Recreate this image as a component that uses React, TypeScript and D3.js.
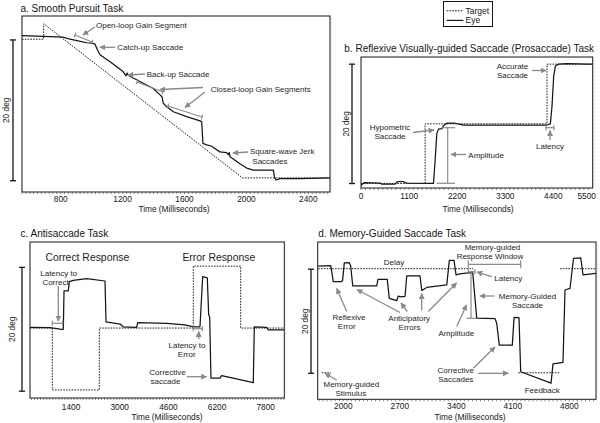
import React from 'react';
import * as d3 from 'd3';

type Pt = [number, number];

// ---------------- Data (time in ms, position in deg) ----------------
// a. Smooth pursuit
const ticksA = [800, 1200, 1600, 2000, 2400];
const targetA: Pt[] = [[550, 19.7], [690, 19.7], [690, 21.9], [1975, 0], [2540, 0]];
const eyeA: Pt[] = [
  [550, 20.2], [686, 20.1], [815, 20.0], [860, 19.7], [905, 19.5], [970, 19.2], [1009, 19.1],
  [1022, 19.0], [1037, 18.2], [1054, 17.5], [1119, 16.5], [1203, 15.1], [1222, 14.5], [1229, 14.9],
  [1237, 14.6], [1269, 14.2], [1312, 13.7], [1398, 12.7], [1442, 11.8], [1455, 11.5], [1463, 10.6],
  [1485, 10.1], [1528, 9.4], [1614, 8.7], [1700, 8.1], [1711, 8.0], [1719, 4.9], [1743, 4.7],
  [1776, 4.5], [1808, 4.0], [1829, 3.7], [1872, 3.6], [1883, 3.3], [1889, 3.6], [1894, 3.0],
  [1915, 2.7], [1958, 2.0], [2002, 1.4], [2044, 1.1], [2174, 1.1], [2181, 0.1], [2191, -0.3],
  [2217, -0.1], [2346, -0.1], [2540, 0.0],
];

// b. Reflexive visually-guided saccade
const ticksB = [0, 1100, 2200, 3300, 4400, 5500];
const targetB: Pt[] = [[0, 0], [1467, 0], [1467, 10], [4255, 10], [4255, 20], [5300, 20]];
const eyeB: Pt[] = [
  [0, -0.3], [69, 0.13], [435, 0.08], [474, -0.1], [779, -0.1], [833, 0.3], [970, 0.3], [1047, 0.08],
  [1658, 0.03], [1696, 3.9], [1734, 8.4], [1772, 9.1], [1849, 9.2], [1887, 9.7], [1963, 10.1],
  [2154, 10.1], [2345, 9.8], [4255, 9.8], [4331, 10.0], [4369, 12.9], [4407, 17.9], [4446, 19.7],
  [4522, 20.0], [4713, 20.1], [5171, 20.0], [5300, 20.0],
];

// c. Antisaccade
const ticksC = [1400, 3000, 4600, 6200, 7800];
const targetC: Pt[] = [
  [50, 0], [783, 0], [783, -10], [2328, -10], [2328, 0], [5418, 0], [5418, 10], [6976, 10],
  [6976, 0], [8410, 0],
];
const eyeC: Pt[] = [
  [50, 0.1], [707, 0.05], [1092, -0.2], [1145, -0.2], [1168, 6.0], [1309, 6.0], [1342, 7.5],
  [1473, 7.7], [1914, 8.0], [2516, 7.6], [2549, 1.0], [3009, 0.65], [3117, 0.2], [3558, 0.1],
  [3590, 0.86], [4543, 0.75], [5145, 0.5], [5419, 0.2], [5638, 0.2], [5727, 8.3], [5879, 8.1],
  [5924, 2.1], [5957, 1.8], [5999, -8.1], [6296, -8.1], [6351, -7.7], [7391, -8.8], [7424, 0.2],
  [7831, 0.1], [7883, -0.3], [8410, -0.3],
];

// d. Memory-guided saccade
const ticksD = [2000, 2700, 3400, 4100, 4800];
const targetDFixation: Pt[] = [[1690, 0], [3611, 0]];
const targetDStimulus: Pt[] = [[1733, -20], [1844, -20]];
const targetDFeedback: Pt[] = [[4169, -20], [4685, -20]];
const targetDFinal: Pt[] = [[4685, 0], [5131, 0]];
const eyeD: Pt[] = [
  [1690, 0.5], [1845, 0.6], [1876, -2.5], [1980, -2.5], [1992, -2.2], [2012, 1.1], [2075, 1.15],
  [2092, 0.5], [2117, -3.3], [2414, -3.3], [2430, -2.05], [2545, -2.05], [2570, -5.7], [2662, -6.15],
  [2682, -5.25], [2703, -5.4], [2765, -5.3], [2786, -1.4], [2951, -1.4], [2972, -4.2], [3034, -3.6],
  [3282, -3.1], [3314, 1.6], [3372, 1.6], [3397, -1.2], [3446, -1.0], [3570, -0.77], [3604, -0.8],
  [3653, -9.5], [3880, -9.6], [3901, -10.5], [3933, -14.7], [4094, -14.7], [4116, -9.35],
  [4177, -9.4], [4198, -19.8], [4574, -22.0], [4598, -18.3], [4722, -18.0], [4747, -4.1],
  [4809, -3.8], [4853, 2.0], [4942, 2.1], [4970, -1.2], [5131, -0.9],
];

const legendItems = ['Target', 'Eye'];
const scaleBarDeg = 20;

// ---------------- Styling ----------------
const FONT = '"Liberation Sans", Arial, Helvetica, sans-serif';
const GRAY = '#8a8a8a';
const INK = '#151515';
const SMALL = 8.3;
const ANN = 8;

type Ann =
  | { k: 't'; x: number; y: number; s: string; a?: 'start' | 'middle' | 'end'; size?: number }
  | { k: 'a'; x1: number; y1: number; x2: number; y2: number }
  | { k: 'b'; x1: number; y1: number; x2: number; y2: number; cap?: number };

const annA: Ann[] = [
  { k: 't', x: 96, y: 28.3, s: 'Open-loop Gain Segment', a: 'start' },
  { k: 't', x: 117.3, y: 50.3, s: 'Catch-up Saccade', a: 'start' },
  { k: 't', x: 146.7, y: 77, s: 'Back-up Saccade', a: 'start' },
  { k: 't', x: 210.7, y: 92.3, s: 'Closed-loop Gain Segments', a: 'start' },
  { k: 't', x: 250, y: 153.7, s: 'Square-wave Jerk', a: 'start' },
  { k: 't', x: 252.3, y: 163.7, s: 'Saccades', a: 'start' },
  { k: 'a', x1: 95, y1: 27, x2: 83, y2: 35 },
  { k: 'a', x1: 115, y1: 47.3, x2: 100, y2: 47.3 },
  { k: 'a', x1: 145, y1: 74, x2: 128, y2: 75 },
  { k: 'a', x1: 203, y1: 87.5, x2: 160, y2: 89.5 },
  { k: 'a', x1: 205, y1: 92, x2: 185, y2: 107.5 },
  { k: 'a', x1: 248, y1: 152, x2: 233, y2: 153 },
  { k: 'b', x1: 75, y1: 35, x2: 92, y2: 42 },
  { k: 'b', x1: 137, y1: 82, x2: 163, y2: 92 },
  { k: 'b', x1: 168, y1: 106, x2: 202, y2: 117 },
];

const annB: Ann[] = [
  { k: 't', x: 512.5, y: 69.3, s: 'Accurate' },
  { k: 't', x: 512.5, y: 78.3, s: 'Saccade' },
  { k: 't', x: 390, y: 130.2, s: 'Hypometric' },
  { k: 't', x: 390, y: 139.2, s: 'Saccade' },
  { k: 't', x: 468.3, y: 158, s: 'Amplitude', a: 'start' },
  { k: 't', x: 550, y: 148.7, s: 'Latency' },
  { k: 'a', x1: 532, y1: 70.5, x2: 546, y2: 70.5 },
  { k: 'a', x1: 413, y1: 132.5, x2: 434, y2: 130 },
  { k: 'a', x1: 466, y1: 154.5, x2: 451, y2: 154.5 },
  { k: 'a', x1: 550, y1: 140, x2: 550, y2: 130.5 },
  { k: 'b', x1: 546, y1: 127.7, x2: 554, y2: 127.7 },
  { k: 'b', x1: 447.7, y1: 127.7, x2: 447.7, y2: 183.3, cap: 0 },
  { k: 'b', x1: 441.7, y1: 127.7, x2: 455, y2: 127.7, cap: 0 },
  { k: 'b', x1: 436.7, y1: 183.3, x2: 455, y2: 183.3, cap: 0 },
];

const annC: Ann[] = [
  { k: 't', x: 87.3, y: 260.5, s: 'Correct Response', size: 10.4 },
  { k: 't', x: 218.8, y: 260.5, s: 'Error Response', size: 10.4 },
  { k: 't', x: 58.7, y: 275.8, s: 'Latency to' },
  { k: 't', x: 55.5, y: 284.8, s: 'Correct' },
  { k: 't', x: 187, y: 348.3, s: 'Latency to' },
  { k: 't', x: 186.7, y: 357.3, s: 'Error' },
  { k: 't', x: 167.5, y: 375.2, s: 'Corrective' },
  { k: 't', x: 165.5, y: 384.2, s: 'saccade' },
  { k: 'a', x1: 58.3, y1: 286, x2: 58.3, y2: 321 },
  { k: 'a', x1: 198.7, y1: 339, x2: 198.7, y2: 331.5 },
  { k: 'a', x1: 186.7, y1: 376.7, x2: 206.5, y2: 376.7 },
  { k: 'b', x1: 52.3, y1: 323.3, x2: 62.7, y2: 323.3 },
  { k: 'b', x1: 193.3, y1: 328.7, x2: 202.3, y2: 328.7 },
];

const annD: Ann[] = [
  { k: 't', x: 394, y: 264.7, s: 'Delay' },
  { k: 't', x: 492.5, y: 249.7, s: 'Memory-guided' },
  { k: 't', x: 490, y: 258.7, s: 'Response Window' },
  { k: 't', x: 508.3, y: 281.3, s: 'Latency' },
  { k: 't', x: 527.5, y: 298.7, s: 'Memory-Guided' },
  { k: 't', x: 527.5, y: 307.7, s: 'Saccade' },
  { k: 't', x: 456.3, y: 335.7, s: 'Amplitude' },
  { k: 't', x: 349, y: 319.8, s: 'Reflexive' },
  { k: 't', x: 346.7, y: 328.8, s: 'Error' },
  { k: 't', x: 409.2, y: 320.6, s: 'Anticipatory' },
  { k: 't', x: 409.5, y: 329.6, s: 'Errors' },
  { k: 't', x: 455.8, y: 372.6, s: 'Corrective' },
  { k: 't', x: 455.8, y: 381.6, s: 'Saccades' },
  { k: 't', x: 542.2, y: 393.3, s: 'Feedback' },
  { k: 't', x: 351.3, y: 386.6, s: 'Memory-guided' },
  { k: 't', x: 350.8, y: 395.6, s: 'Stimulus' },
  { k: 'a', x1: 346.7, y1: 311.5, x2: 336.7, y2: 288.5 },
  { k: 'a', x1: 400, y1: 312.5, x2: 357, y2: 289.5 },
  { k: 'a', x1: 407.3, y1: 311.5, x2: 401, y2: 303 },
  { k: 'a', x1: 421.7, y1: 310.5, x2: 421.7, y2: 293.5 },
  { k: 'a', x1: 428.3, y1: 311.5, x2: 456.5, y2: 283 },
  { k: 'a', x1: 491.7, y1: 276.7, x2: 477, y2: 272 },
  { k: 'a', x1: 494.3, y1: 296, x2: 480, y2: 296 },
  { k: 'a', x1: 456.7, y1: 326.5, x2: 466.5, y2: 305 },
  { k: 'a', x1: 473.3, y1: 368.3, x2: 495, y2: 347 },
  { k: 'a', x1: 478.3, y1: 373.3, x2: 508.3, y2: 373.3 },
  { k: 'a', x1: 336.7, y1: 380, x2: 325, y2: 373.5 },
  { k: 'b', x1: 468.3, y1: 264.3, x2: 520.7, y2: 264.3, cap: 4 },
  { k: 'b', x1: 468.3, y1: 271.7, x2: 475, y2: 271.7 },
  { k: 'b', x1: 471, y1: 271, x2: 471, y2: 318.3, cap: 0 },
  { k: 'b', x1: 466.7, y1: 318.3, x2: 476, y2: 318.3, cap: 0 },
];

function Annotations({ items }: { items: Ann[] }) {
  return (
    <g>
      {items.map((d, i) => {
        if (d.k === 't') {
          return (
            <text key={i} x={d.x} y={d.y} textAnchor={d.a || 'middle'} fontSize={d.size || ANN}
              fill="#1e1e1e" fontFamily={FONT}>{d.s}</text>
          );
        }
        if (d.k === 'a') {
          return (
            <line key={i} x1={d.x1} y1={d.y1} x2={d.x2} y2={d.y2} stroke={GRAY} strokeWidth={1.3}
              markerEnd="url(#ah)" />
          );
        }
        const cap = d.cap === undefined ? 2.5 : d.cap;
        const dx = d.x2 - d.x1, dy = d.y2 - d.y1;
        const len = Math.hypot(dx, dy) || 1;
        const nx = (-dy / len) * cap, ny = (dx / len) * cap;
        return (
          <g key={i} stroke={GRAY} strokeWidth={1.2}>
            <line x1={d.x1} y1={d.y1} x2={d.x2} y2={d.y2} />
            {cap > 0 && <line x1={d.x1 - nx} y1={d.y1 - ny} x2={d.x1 + nx} y2={d.y1 + ny} />}
            {cap > 0 && <line x1={d.x2 - nx} y1={d.y2 - ny} x2={d.x2 + nx} y2={d.y2 + ny} />}
          </g>
        );
      })}
    </g>
  );
}

interface PanelProps {
  id: string;
  title: string; titleX: number; titleY: number;
  left: number; right: number; top: number; bottom: number;
  xDomain: [number, number]; yDomain: [number, number];
  ticks: number[]; minorStep: number;
  eye: Pt[]; targets: Pt[][];
  barX: number; barBase: number; barLabelX: number;
  tickLabelY: number; axisTitleX: number; axisTitleY: number;
  ann: Ann[];
}

function Panel(p: PanelProps) {
  const x = d3.scaleLinear().domain(p.xDomain).range([p.left, p.right]);
  const y = d3.scaleLinear().domain(p.yDomain).range([p.bottom, p.top]);
  const line = d3.line<Pt>().x(d => x(d[0])).y(d => y(d[1]));
  const start = Math.ceil(p.xDomain[0] / p.minorStep) * p.minorStep;
  const minor = d3.range(start, p.xDomain[1], p.minorStep);
  const rightTicks = d3.range(p.top + 3, p.bottom - 1, 4);
  const yb0 = y(p.barBase), yb1 = y(p.barBase + scaleBarDeg);
  return (
    <g>
      <defs>
        <clipPath id={`clip-${p.id}`}>
          <rect x={p.left} y={p.top} width={p.right - p.left} height={p.bottom - p.top} />
        </clipPath>
      </defs>
      <text x={p.titleX} y={p.titleY} fontSize={10} fontFamily={FONT} fill={INK}>{p.title}</text>
      <g clipPath={`url(#clip-${p.id})`}>
        {p.targets.map((t, i) => (
          <path key={i} d={line(t) || ''} fill="none" stroke="#222" strokeWidth={1}
            strokeDasharray="1.6 1.2" />
        ))}
        <path d={line(p.eye) || ''} fill="none" stroke={INK} strokeWidth={1.25}
          strokeLinejoin="round" />
      </g>
      <rect x={p.left} y={p.top} width={p.right - p.left} height={p.bottom - p.top}
        fill="none" stroke={INK} strokeWidth={1} />
      <g stroke="#555" strokeWidth={0.7}>
        {minor.map((v, i) => (
          <line key={i} x1={x(v)} x2={x(v)} y1={p.bottom} y2={p.bottom + 2} />
        ))}
      </g>
      <g stroke="#aaa" strokeWidth={0.6}>
        {rightTicks.map((v, i) => (
          <line key={i} x1={p.right} x2={p.right + 2} y1={v} y2={v} />
        ))}
      </g>
      {p.ticks.map((v, i) => (
        <text key={i} x={Math.min(x(v), p.right - 6)} y={p.tickLabelY} textAnchor="middle"
          fontSize={SMALL} fontFamily={FONT} fill={INK}>{v}</text>
      ))}
      <text x={p.axisTitleX} y={p.axisTitleY} textAnchor="middle" fontSize={SMALL}
        fontFamily={FONT} fill={INK}>Time (Milliseconds)</text>
      <g stroke={INK} strokeWidth={1.3}>
        <line x1={p.barX} x2={p.barX} y1={yb0} y2={yb1} />
        <line x1={p.barX - 3} x2={p.barX + 3} y1={yb0} y2={yb0} />
        <line x1={p.barX - 3} x2={p.barX + 3} y1={yb1} y2={yb1} />
      </g>
      <text transform={`translate(${p.barLabelX},${(yb0 + yb1) / 2}) rotate(-90)`}
        textAnchor="middle" fontSize={SMALL} fontFamily={FONT} fill={INK}>{scaleBarDeg} deg</text>
      <Annotations items={p.ann} />
    </g>
  );
}

export default function App() {
  return (
    <svg width={600} height={423} style={{ position: 'absolute', left: 0, top: 0, background: '#fff' }}>
      <defs>
        <marker id="ah" viewBox="0 0 10 10" refX="9" refY="5" markerWidth="6" markerHeight="6"
          orient="auto" markerUnits="userSpaceOnUse">
          <path d="M0,0 L10,5 L0,10 z" fill={GRAY} />
        </marker>
      </defs>
      <rect width={600} height={423} fill="#fff" />
      <Panel id="a" title="a. Smooth Pursuit Task" titleX={20.5} titleY={11.5}
        left={22} right={330} top={16} bottom={192} xDomain={[550, 2540]} yDomain={[-2, 23]}
        ticks={ticksA} minorStep={25} eye={eyeA} targets={[targetA]}
        barX={13} barBase={-0.4} barLabelX={9} tickLabelY={202} axisTitleX={174} axisTitleY={212.3}
        ann={annA} />
      <Panel id="b" title="b. Reflexive Visually-guided Saccade (Prosaccade) Task" titleX={344.3} titleY={51.5}
        left={361} right={592.7} top={57} bottom={188} xDomain={[0, 5300]} yDomain={[-0.75, 21.2]}
        ticks={ticksB} minorStep={100} eye={eyeB} targets={[targetB]}
        barX={352} barBase={0} barLabelX={349} tickLabelY={198.7} axisTitleX={478} axisTitleY={212.3}
        ann={annB} />
      <Panel id="c" title="c. Antisaccade Task" titleX={20.5} titleY={237}
        left={30} right={284.3} top={242} bottom={398} xDomain={[50, 8410]} yDomain={[-11.3, 13.9]}
        ticks={ticksC} minorStep={100} eye={eyeC} targets={[targetC]}
        barX={22} barBase={-10.2} barLabelX={15} tickLabelY={409.7} axisTitleX={167} axisTitleY={419.7}
        ann={annC} />
      <Panel id="d" title="d. Memory-Guided Saccade Task" titleX={318.3} titleY={237}
        left={317.7} right={596} top={242} bottom={399.3} xDomain={[1683, 5131]} yDomain={[-25.1, 5.13]}
        ticks={ticksD} minorStep={50} eye={eyeD}
        targets={[targetDFixation, targetDStimulus, targetDFeedback, targetDFinal]}
        barX={311} barBase={-20.1} barLabelX={307.5} tickLabelY={409} axisTitleX={470} axisTitleY={419.7}
        ann={annD} />
      <g>
        <rect x={443.5} y={1.5} width={49} height={25} fill="#fff" stroke={INK} strokeWidth={1} />
        {legendItems.map((name, i) => (
          <g key={name}>
            <line x1={446.7} x2={463.3} y1={10.8 + i * 9.6} y2={10.8 + i * 9.6} stroke={INK}
              strokeWidth={i === 0 ? 1 : 1.2} strokeDasharray={i === 0 ? '1.6 1.2' : undefined} />
            <text x={465.5} y={13.8 + i * 9.6} fontSize={8.5} fontFamily={FONT} fill={INK}>{name}</text>
          </g>
        ))}
      </g>
    </svg>
  );
}
